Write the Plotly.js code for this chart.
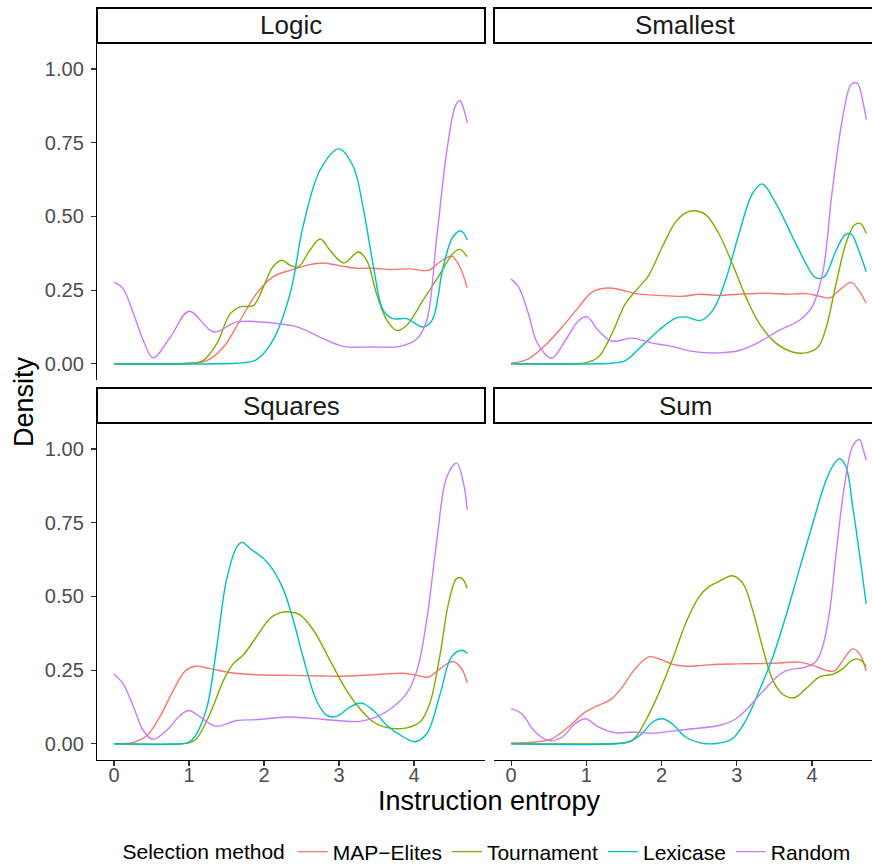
<!DOCTYPE html>
<html>
<head>
<meta charset="utf-8">
<script src="https://cdn.plot.ly/plotly-3.0.1.min.js"></script>
<style>html,body{margin:0;padding:0;background:#fff;}#chart{width:872px;height:865px;}</style>
</head>
<body>
<div id="chart"></div>
<script>
// ---- data ----
const panels = ["Logic", "Smallest", "Squares", "Sum"];
const methods = ["MAP\u2212Elites", "Tournament", "Lexicase", "Random"];
const colors = ["#F8766D", "#7CAE00", "#00BFC4", "#C77CFF"];
const xTicks = [0, 1, 2, 3, 4];
const yTicks = [0, 0.25, 0.5, 0.75, 1.0];
const yTickText = ["0.00", "0.25", "0.50", "0.75", "1.00"];

// Logic
const logicMapX = [0, 0.8, 1.0, 1.24, 1.46, 1.68, 1.9, 2.12, 2.35, 2.57, 2.79, 3.01, 3.24, 3.46, 3.68, 3.95, 4.19, 4.35, 4.5, 4.61, 4.71];
const logicMapY = [0, 0, 0.002, 0.011, 0.057, 0.147, 0.238, 0.295, 0.317, 0.334, 0.342, 0.333, 0.324, 0.324, 0.32, 0.322, 0.317, 0.346, 0.365, 0.329, 0.258];
const logicTourX = [0, 0.9, 1.01, 1.19, 1.37, 1.55, 1.68, 1.86, 1.99, 2.12, 2.24, 2.35, 2.46, 2.61, 2.75, 2.88, 3.06, 3.26, 3.37, 3.5, 3.64, 3.77, 3.9, 4.12, 4.35, 4.52, 4.61, 4.71];
const logicTourY = [0, 0, 0.002, 0.011, 0.068, 0.17, 0.193, 0.198, 0.26, 0.329, 0.351, 0.334, 0.329, 0.385, 0.423, 0.385, 0.342, 0.379, 0.351, 0.238, 0.147, 0.113, 0.13, 0.215, 0.306, 0.374, 0.388, 0.363];
const logicLexX = [0, 1.4, 1.64, 1.9, 2.12, 2.35, 2.52, 2.75, 3.0, 3.19, 3.32, 3.46, 3.59, 3.72, 3.9, 4.12, 4.24, 4.39, 4.52, 4.63, 4.71];
const logicLexY = [0, 0, 0.002, 0.014, 0.08, 0.24, 0.465, 0.658, 0.729, 0.669, 0.533, 0.329, 0.181, 0.153, 0.153, 0.125, 0.147, 0.329, 0.431, 0.45, 0.42];
const logicRandX = [0, 0.12, 0.26, 0.39, 0.52, 0.75, 1.0, 1.33, 1.64, 2.12, 2.44, 2.79, 3.06, 3.46, 3.81, 4.04, 4.17, 4.30, 4.44, 4.55, 4.61, 4.68, 4.71];
const logicRandY = [0.278, 0.255, 0.17, 0.079, 0.02, 0.09, 0.178, 0.108, 0.142, 0.138, 0.125, 0.085, 0.059, 0.057, 0.059, 0.085, 0.147, 0.42, 0.726, 0.873, 0.893, 0.85, 0.816];

// Smallest
const smallMapX = [0, 0.23, 0.45, 0.68, 0.9, 1.08, 1.28, 1.44, 1.66, 1.96, 2.28, 2.5, 2.76, 3.03, 3.39, 3.66, 3.92, 4.1, 4.23, 4.36, 4.52, 4.62, 4.72];
const smallMapY = [0.002, 0.017, 0.062, 0.125, 0.193, 0.244, 0.257, 0.252, 0.238, 0.232, 0.229, 0.236, 0.232, 0.236, 0.239, 0.236, 0.238, 0.229, 0.223, 0.249, 0.276, 0.249, 0.206];
const smallTourX = [0, 0.8, 0.99, 1.16, 1.34, 1.52, 1.7, 1.83, 2.01, 2.19, 2.32, 2.44, 2.59, 2.76, 2.94, 3.12, 3.3, 3.52, 3.74, 3.92, 4.08, 4.19, 4.32, 4.45, 4.56, 4.64, 4.72];
const smallTourY = [0, 0, 0.003, 0.023, 0.102, 0.204, 0.26, 0.3, 0.397, 0.482, 0.512, 0.519, 0.505, 0.442, 0.34, 0.227, 0.136, 0.07, 0.04, 0.037, 0.057, 0.125, 0.272, 0.408, 0.47, 0.476, 0.442];
const smallLexX = [0, 1.2, 1.34, 1.52, 1.7, 1.96, 2.19, 2.32, 2.52, 2.68, 2.85, 3.03, 3.21, 3.34, 3.52, 3.74, 3.92, 4.04, 4.16, 4.32, 4.44, 4.52, 4.62, 4.72];
const smallLexY = [0, 0, 0.002, 0.011, 0.051, 0.113, 0.155, 0.159, 0.147, 0.181, 0.283, 0.442, 0.578, 0.61, 0.544, 0.431, 0.34, 0.293, 0.295, 0.385, 0.437, 0.44, 0.385, 0.312];
const smallRandX = [0, 0.1, 0.23, 0.35, 0.54, 0.72, 0.9, 1.01, 1.16, 1.34, 1.61, 1.88, 2.14, 2.41, 2.76, 3.03, 3.3, 3.56, 3.83, 4.0, 4.14, 4.27, 4.41, 4.52, 4.6, 4.68, 4.72];
const smallRandY = [0.288, 0.26, 0.17, 0.07, 0.019, 0.079, 0.147, 0.159, 0.113, 0.077, 0.087, 0.07, 0.059, 0.042, 0.037, 0.045, 0.074, 0.113, 0.147, 0.193, 0.306, 0.59, 0.839, 0.947, 0.952, 0.884, 0.828];

// Squares
const sqMapX = [0, 0.26, 0.44, 0.61, 0.79, 0.95, 1.08, 1.28, 1.55, 1.9, 2.35, 2.79, 3.01, 3.46, 3.86, 4.04, 4.19, 4.35, 4.52, 4.64, 4.71];
const sqMapY = [0, 0.005, 0.028, 0.091, 0.181, 0.247, 0.263, 0.255, 0.241, 0.234, 0.232, 0.23, 0.229, 0.234, 0.239, 0.232, 0.226, 0.255, 0.279, 0.252, 0.206];
const sqTourX = [0, 0.9, 1.0, 1.1, 1.28, 1.46, 1.59, 1.72, 1.9, 2.08, 2.21, 2.35, 2.48, 2.66, 2.88, 3.1, 3.28, 3.46, 3.68, 3.9, 4.08, 4.21, 4.35, 4.46, 4.57, 4.64, 4.71];
const sqTourY = [0, 0, 0.003, 0.017, 0.102, 0.215, 0.272, 0.3, 0.363, 0.425, 0.444, 0.447, 0.437, 0.385, 0.283, 0.181, 0.119, 0.074, 0.053, 0.054, 0.074, 0.136, 0.306, 0.476, 0.561, 0.561, 0.527];
const sqLexX = [0, 0.9, 1.0, 1.1, 1.24, 1.37, 1.5, 1.64, 1.71, 1.81, 1.99, 2.12, 2.26, 2.39, 2.52, 2.7, 2.84, 2.97, 3.15, 3.3, 3.46, 3.64, 3.86, 4.01, 4.17, 4.35, 4.5, 4.64, 4.71];
const sqLexY = [0, 0, 0.006, 0.034, 0.125, 0.329, 0.556, 0.669, 0.683, 0.663, 0.629, 0.59, 0.522, 0.42, 0.295, 0.147, 0.096, 0.093, 0.125, 0.138, 0.113, 0.062, 0.023, 0.007, 0.034, 0.17, 0.295, 0.317, 0.306];
const sqRandX = [0, 0.12, 0.26, 0.39, 0.52, 0.7, 0.88, 1.0, 1.15, 1.35, 1.64, 1.9, 2.3, 2.61, 2.97, 3.28, 3.5, 3.72, 3.9, 4.04, 4.17, 4.3, 4.44, 4.57, 4.66, 4.71];
const sqRandY = [0.236, 0.204, 0.125, 0.045, 0.015, 0.045, 0.096, 0.113, 0.091, 0.06, 0.079, 0.082, 0.091, 0.087, 0.079, 0.076, 0.091, 0.125, 0.17, 0.249, 0.42, 0.68, 0.907, 0.952, 0.884, 0.794];

// Sum
const sumMapX = [0, 0.32, 0.54, 0.76, 0.99, 1.16, 1.34, 1.48, 1.65, 1.83, 1.96, 2.14, 2.32, 2.54, 2.76, 3.03, 3.3, 3.56, 3.83, 4.01, 4.19, 4.3, 4.41, 4.54, 4.63, 4.72];
const sumMapY = [0.002, 0.006, 0.017, 0.057, 0.108, 0.13, 0.153, 0.193, 0.255, 0.295, 0.289, 0.27, 0.263, 0.266, 0.27, 0.271, 0.272, 0.274, 0.277, 0.266, 0.249, 0.247, 0.283, 0.322, 0.306, 0.247];
const sumTourX = [0, 1.3, 1.43, 1.61, 1.79, 1.96, 2.14, 2.32, 2.5, 2.63, 2.76, 2.94, 3.08, 3.21, 3.34, 3.48, 3.61, 3.76, 3.92, 4.1, 4.28, 4.41, 4.52, 4.6, 4.65, 4.72];
const sumTourY = [0, 0, 0.002, 0.011, 0.079, 0.17, 0.283, 0.408, 0.499, 0.533, 0.55, 0.57, 0.544, 0.454, 0.329, 0.215, 0.168, 0.156, 0.187, 0.227, 0.236, 0.255, 0.281, 0.288, 0.283, 0.263];
const sumLexX = [0, 1.4, 1.56, 1.74, 1.88, 2.01, 2.14, 2.32, 2.54, 2.76, 2.94, 3.12, 3.3, 3.48, 3.65, 3.83, 4.01, 4.19, 4.3, 4.37, 4.45, 4.54, 4.63, 4.72];
const sumLexY = [0, 0, 0.006, 0.034, 0.074, 0.085, 0.068, 0.023, 0.002, 0.002, 0.017, 0.079, 0.181, 0.295, 0.431, 0.59, 0.748, 0.896, 0.952, 0.967, 0.941, 0.805, 0.646, 0.474];
const sumRandX = [0, 0.14, 0.32, 0.5, 0.68, 0.85, 0.99, 1.16, 1.39, 1.61, 1.88, 2.14, 2.41, 2.76, 2.99, 3.16, 3.34, 3.52, 3.65, 3.92, 4.05, 4.14, 4.23, 4.32, 4.43, 4.54, 4.63, 4.68, 4.72];
const sumRandY = [0.119, 0.102, 0.04, 0.011, 0.023, 0.068, 0.085, 0.057, 0.037, 0.04, 0.036, 0.043, 0.051, 0.062, 0.085, 0.125, 0.176, 0.224, 0.247, 0.261, 0.278, 0.329, 0.442, 0.646, 0.873, 1.009, 1.032, 0.998, 0.961];

// ---- build ----
const panelData = [
  [[logicMapX, logicMapY], [logicTourX, logicTourY], [logicLexX, logicLexY], [logicRandX, logicRandY]],
  [[smallMapX, smallMapY], [smallTourX, smallTourY], [smallLexX, smallLexY], [smallRandX, smallRandY]],
  [[sqMapX, sqMapY], [sqTourX, sqTourY], [sqLexX, sqLexY], [sqRandX, sqRandY]],
  [[sumMapX, sumMapY], [sumTourX, sumTourY], [sumLexX, sumLexY], [sumRandX, sumRandY]]
];

const W = 872, H = 865;
const FONT = '"Liberation Sans", Arial, Helvetica, sans-serif';
const traces = [];
panelData.forEach((series, p) => {
  const ax = p === 0 ? '' : String(p + 1);
  series.forEach((s, m) => {
    traces.push({
      type: 'scatter', mode: 'lines',
      x: s[0], y: s[1],
      xaxis: 'x' + ax, yaxis: 'y' + ax,
      name: methods[m], legendgroup: methods[m],
      showlegend: p === 0,
      line: {color: colors[m], width: 1.4, shape: 'spline', smoothing: 1},
      hoverinfo: 'skip'
    });
  });
});

// pixel geometry
const colX = [[97, 485], [494, 872]];
const rowY = [[43, 380], [423, 760]];
const stripY = [[8, 43], [388, 423]];
const px = v => v / W;
const py = v => 1 - v / H;

const yRange = [-0.055, 1.088];
const xRanges = [[-0.227, 4.947], [-0.227, 4.797]];

const tickFont = {family: FONT, size: 20, color: '#4D4D4D'};
function xAxis(col, row) {
  const show = row === 1;
  return {
    domain: [px(colX[col][0]), px(colX[col][1])],
    range: xRanges[col], showgrid: false, zeroline: false,
    showline: show, linecolor: '#000', linewidth: 1.2,
    ticks: show ? 'outside' : '', ticklen: 5, tickcolor: '#333', tickwidth: 1.1,
    showticklabels: show, tickvals: xTicks, ticktext: xTicks.map(String),
    tickfont: tickFont, ticklabelstandoff: -8, fixedrange: true
  };
}
function yAxis(col, row) {
  const show = col === 0;
  return {
    domain: [py(rowY[row][1]), py(rowY[row][0])],
    range: yRange, showgrid: false, zeroline: false,
    showline: show, linecolor: '#000', linewidth: 1.2,
    ticks: show ? 'outside' : '', ticklen: 5, tickcolor: '#333', tickwidth: 1.1,
    showticklabels: show, tickvals: yTicks, ticktext: yTickText,
    tickfont: tickFont, ticklabelstandoff: 3, fixedrange: true
  };
}

const layout = {
  width: W, height: H,
  margin: {l: 0, r: 0, t: 0, b: 0, autoexpand: false},
  paper_bgcolor: '#fff', plot_bgcolor: '#fff',
  font: {family: FONT, color: '#000'},
  showlegend: true,
  legend: {
    orientation: 'h', x: 488 / W, xanchor: 'center', y: py(852), yanchor: 'middle',
    font: {family: FONT, size: 21, color: '#000'},
    title: {text: 'Selection method', font: {family: FONT, size: 21, color: '#000'}, side: 'left'},
    itemwidth: 30, tracegroupgap: 0, bgcolor: 'rgba(0,0,0,0)'
  },
  shapes: [], annotations: []
};

panels.forEach((name, p) => {
  const col = p % 2, row = Math.floor(p / 2);
  const ax = p === 0 ? '' : String(p + 1);
  layout['xaxis' + ax] = Object.assign(xAxis(col, row), {anchor: 'y' + ax});
  layout['yaxis' + ax] = Object.assign(yAxis(col, row), {anchor: 'x' + ax});
  const x0 = px(colX[col][0]), x1 = col === 1 ? 1.01 : px(colX[col][1]);
  layout.shapes.push({
    type: 'rect', xref: 'paper', yref: 'paper',
    x0: x0, x1: x1, y0: py(stripY[row][1]), y1: py(stripY[row][0]),
    line: {color: '#000', width: 2}, fillcolor: '#fff'
  });
  layout.annotations.push({
    xref: 'paper', yref: 'paper',
    x: px((colX[col][0] + (col === 1 ? 876 : colX[col][1])) / 2),
    y: py((stripY[row][0] + stripY[row][1]) / 2),
    xanchor: 'center', yanchor: 'middle', showarrow: false,
    text: name, font: {family: FONT, size: 26, color: '#1A1A1A'}
  });
});

layout.annotations.push({
  xref: 'paper', yref: 'paper', x: px(489.5), y: py(801),
  xanchor: 'center', yanchor: 'middle', showarrow: false,
  text: 'Instruction entropy', font: {family: FONT, size: 27, color: '#000'}
});
layout.annotations.push({
  xref: 'paper', yref: 'paper', x: px(24), y: py(402),
  xanchor: 'center', yanchor: 'middle', showarrow: false, textangle: -90,
  text: 'Density', font: {family: FONT, size: 27, color: '#000'}
});

Plotly.newPlot('chart', traces, layout, {staticPlot: true, displayModeBar: false});
</script>
</body>
</html>
